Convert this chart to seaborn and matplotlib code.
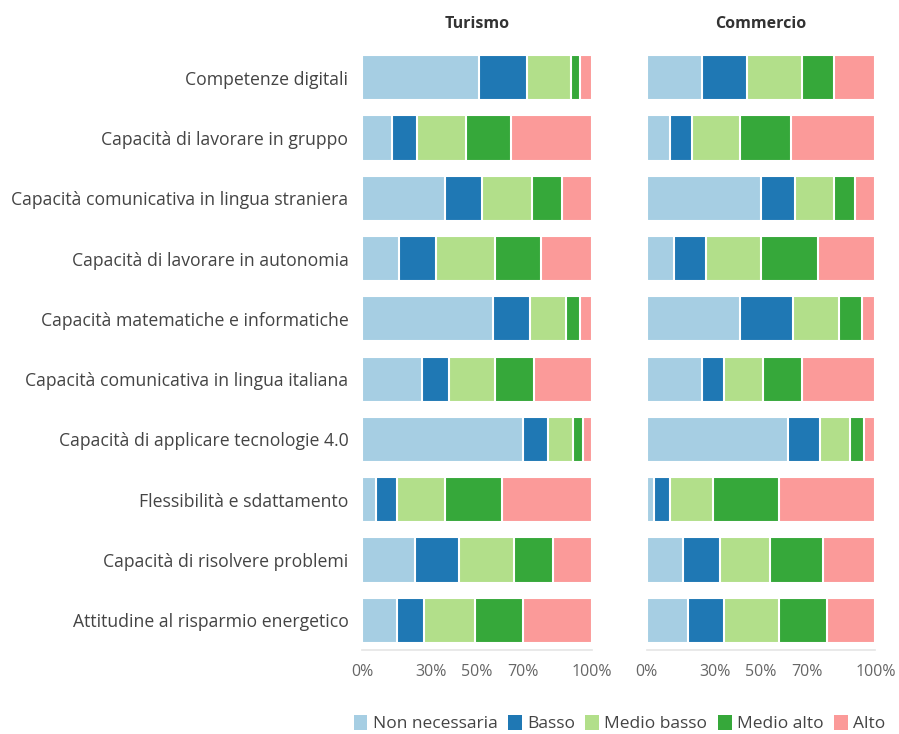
import pandas as pd
import seaborn as sns
import matplotlib.pyplot as plt
from matplotlib.patches import Patch

# Competenze (righe, dall'alto in basso)
competenze = [
    "Competenze digitali",
    "Capacità di lavorare in gruppo",
    "Capacità comunicativa in lingua straniera",
    "Capacità di lavorare in autonomia",
    "Capacità matematiche e informatiche",
    "Capacità comunicativa in lingua italiana",
    "Capacità di applicare tecnologie 4.0",
    "Flessibilità e sdattamento",
    "Capacità di risolvere problemi",
    "Attitudine al risparmio energetico",
]

livelli = ["Non necessaria", "Basso", "Medio basso", "Medio alto", "Alto"]
colori = ["#a6cee3", "#1f78b4", "#b2df8a", "#36a83a", "#fb9a99"]

# Turismo (%)
tur_non_necessaria = [51, 13, 36, 16, 57, 26, 70, 6, 23, 15]
tur_basso = [21, 11, 16, 16, 16, 12, 11, 9, 19, 12]
tur_medio_basso = [19, 21, 22, 26, 16, 20, 11, 21, 24, 22]
tur_medio_alto = [4, 20, 13, 20, 6, 17, 4, 25, 17, 21]
tur_alto = [5, 35, 13, 22, 5, 25, 4, 39, 17, 30]

# Commercio (%)
com_non_necessaria = [24, 10, 50, 12, 41, 24, 62, 3, 16, 18]
com_basso = [20, 10, 15, 14, 23, 10, 14, 7, 16, 16]
com_medio_basso = [24, 21, 17, 24, 20, 17, 13, 19, 22, 24]
com_medio_alto = [14, 22, 9, 25, 10, 17, 6, 29, 23, 21]
com_alto = [18, 37, 9, 25, 6, 32, 5, 42, 23, 21]


def costruisci_df(serie):
    righe = []
    for i, comp in enumerate(competenze):
        cum = 0
        for liv, valori in zip(livelli, serie):
            cum += valori[i]
            righe.append({"competenza": comp, "livello": liv, "cum": cum})
    return pd.DataFrame(righe)


df_tur = costruisci_df([tur_non_necessaria, tur_basso, tur_medio_basso,
                        tur_medio_alto, tur_alto])
df_com = costruisci_df([com_non_necessaria, com_basso, com_medio_basso,
                        com_medio_alto, com_alto])

sns.set_theme(style="white")
plt.rcParams["font.family"] = ["Open Sans", "DejaVu Sans"]

fig = plt.figure(figsize=(8.99, 7.34), dpi=100)
ax1 = fig.add_axes([0.403, 0.1138, 0.2552, 0.8215])
ax2 = fig.add_axes([0.7194, 0.1138, 0.2543, 0.8215])

for ax, df, titolo in [(ax1, df_tur, "Turismo"), (ax2, df_com, "Commercio")]:
    # barre sovrapposte dal cumulato maggiore al minore
    for liv, col in reversed(list(zip(livelli, colori))):
        sub = df[df["livello"] == liv]
        sns.barplot(data=sub, x="cum", y="competenza", order=competenze,
                    color=col, orient="h", width=0.75, errorbar=None,
                    edgecolor="white", linewidth=1.5, saturation=1, ax=ax)
    ax.set_xlim(0, 100)
    ax.set_xticks([0, 30, 50, 70, 100])
    ax.set_xticklabels(["0%", "30%", "50%", "70%", "100%"])
    ax.set_xlabel("")
    ax.set_ylabel("")
    ax.set_title(titolo, fontsize=11.5, fontweight="bold", color="#333333", pad=14)
    for s in ["top", "right", "left"]:
        ax.spines[s].set_visible(False)
    ax.spines["bottom"].set_color("#e6e6e6")
    ax.tick_params(axis="x", length=0, pad=10, labelsize=11.5, labelcolor="#666666")
    ax.tick_params(axis="y", length=0, pad=10, labelsize=12.7, labelcolor="#444444")

ax2.set_yticklabels([])

handles = [Patch(facecolor=c, edgecolor="none", label=l) for l, c in zip(livelli, colori)]
fig.legend(handles=handles, loc="center", bbox_to_anchor=(0.689, 0.014),
           ncol=5, frameon=False, fontsize=12.5, handlelength=0.8,
           handleheight=0.9, handletextpad=0.3, columnspacing=0.6,
           labelcolor="#444444")

fig.savefig("out.png", dpi=100)
